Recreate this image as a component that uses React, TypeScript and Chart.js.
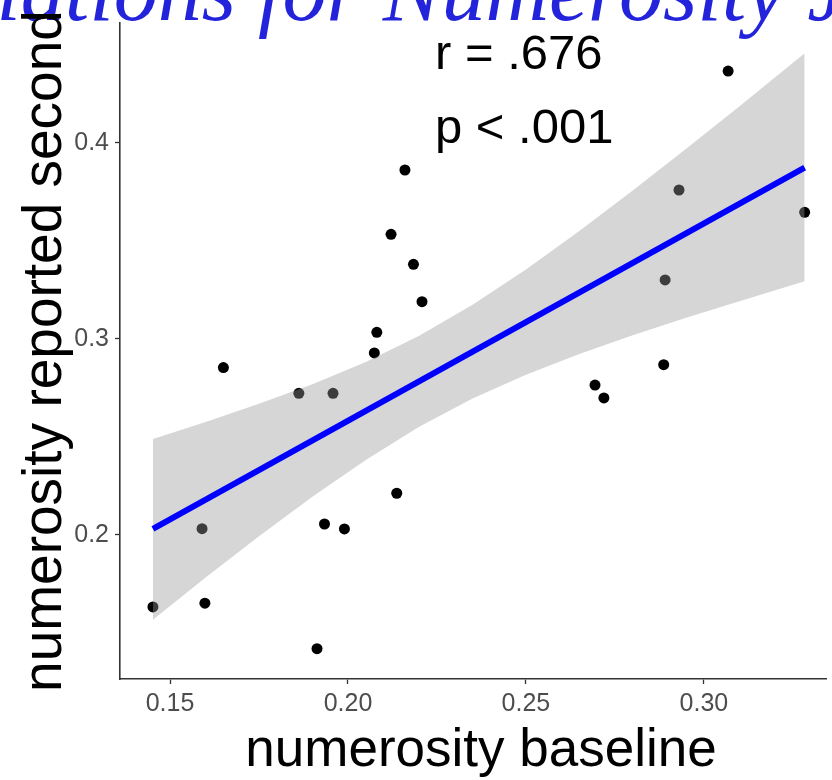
import React, { useEffect, useRef } from 'react';
import { Chart, registerables } from 'chart.js';

Chart.register(...registerables);

// ---- data ----
const baselineX = [0.1452, 0.159, 0.1598, 0.165, 0.1862, 0.1913, 0.1934, 0.1958, 0.199, 0.2074, 0.2081, 0.2121, 0.2137, 0.216, 0.2184, 0.2208, 0.2694, 0.2719, 0.2887, 0.2891, 0.293, 0.3068, 0.3283];
const reportedY = [0.1633, 0.2032, 0.1652, 0.2854, 0.2723, 0.142, 0.2056, 0.2723, 0.2031, 0.2929, 0.3034, 0.3534, 0.2213, 0.3862, 0.3381, 0.319, 0.2765, 0.2699, 0.2869, 0.3301, 0.376, 0.4367, 0.3646];

const fitX = [0.1452, 0.3283];
const fitY = [0.2031, 0.3874];

const bandX = [0.1452, 0.16, 0.175, 0.19, 0.205, 0.22, 0.235, 0.25, 0.265, 0.28, 0.295, 0.31, 0.3283];
const bandUpper = [0.249, 0.2577, 0.2669, 0.2769, 0.2883, 0.3016, 0.3174, 0.3354, 0.3551, 0.3757, 0.397, 0.4187, 0.4458];
const bandLower = [0.1568, 0.1783, 0.1993, 0.2195, 0.2383, 0.2552, 0.2696, 0.2818, 0.2923, 0.3019, 0.3108, 0.3193, 0.3294];

const xTicks = [0.15, 0.2, 0.25, 0.3];
const xTickLabels = ['0.15', '0.20', '0.25', '0.30'];
const yTicks = [0.2, 0.3, 0.4];
const yTickLabels = ['0.2', '0.3', '0.4'];

const titleText = 'Correlations for Numerosity Judgments';
const xTitle = 'numerosity baseline';
const yTitle = 'numerosity reported second';
const statLines = ['r = .676', 'p < .001'];

const SANS = '"Liberation Sans", Arial, sans-serif';
const SERIF = '"Liberation Serif", "Times New Roman", serif';

const textPlugin = {
  id: 'textOverlay',
  afterDraw(chart: any) {
    const ctx = chart.ctx as CanvasRenderingContext2D;
    const area = chart.chartArea;
    ctx.save();
    // cropped slide title
    ctx.font = 'italic 88px ' + SERIF;
    ctx.fillStyle = '#2323dc';
    ctx.textBaseline = 'alphabetic';
    ctx.textAlign = 'left';
    const prefix = titleText.slice(0, titleText.indexOf('for'));
    const start = 258 - ctx.measureText(prefix).width;
    ctx.fillText(titleText, start, 20);

    // axis titles
    ctx.fillStyle = '#000000';
    ctx.font = '53px ' + SANS;
    ctx.textAlign = 'center';
    ctx.fillText(xTitle, 481, 766);

    ctx.save();
    ctx.font = '55px ' + SANS;
    ctx.translate(61, (area.top + area.bottom) / 2);
    ctx.rotate(-Math.PI / 2);
    ctx.textAlign = 'center';
    ctx.fillText(yTitle, 0, 0);
    ctx.restore();

    // statistics
    ctx.font = '49px ' + SANS;
    ctx.textAlign = 'left';
    ctx.fillText(statLines[0], 435, 69);
    ctx.fillText(statLines[1], 435, 143);
    ctx.restore();
  },
};

export default function App() {
  const ref = useRef<HTMLCanvasElement | null>(null);

  useEffect(() => {
    if (!ref.current) return;
    const chart = new Chart(ref.current, {
      type: 'scatter',
      data: {
        datasets: [
          {
            type: 'scatter',
            label: 'points',
            data: baselineX.map((x, i) => ({ x, y: reportedY[i] })),
            backgroundColor: '#000000',
            borderWidth: 0,
            pointRadius: 5.5,
            order: 4,
          },
          {
            type: 'line',
            label: 'upper',
            data: bandX.map((x, i) => ({ x, y: bandUpper[i] })),
            borderWidth: 0,
            borderColor: 'rgba(0,0,0,0)',
            pointRadius: 0,
            fill: '+1',
            backgroundColor: 'rgba(153,153,153,0.4)',
            order: 2,
          },
          {
            type: 'line',
            label: 'lower',
            data: bandX.map((x, i) => ({ x, y: bandLower[i] })),
            borderWidth: 0,
            borderColor: 'rgba(0,0,0,0)',
            pointRadius: 0,
            fill: false,
            order: 3,
          },
          {
            type: 'line',
            label: 'fit',
            data: fitX.map((x, i) => ({ x, y: fitY[i] })),
            borderColor: '#0000ff',
            borderWidth: 6,
            pointRadius: 0,
            fill: false,
            order: 1,
          },
        ],
      } as any,
      options: {
        animation: false,
        responsive: false,
        layout: { padding: { top: 23, left: 0, right: 0, bottom: 0 } },
        plugins: {
          legend: { display: false },
          tooltip: { enabled: false },
          title: { display: false },
        },
        scales: {
          x: {
            type: 'linear',
            min: 0.13595,
            max: 0.33444,
            afterBuildTicks: (scale: any) => {
              scale.ticks = xTicks.map((v) => ({ value: v }));
            },
            afterFit: (scale: any) => {
              scale.height = 101;
            },
            ticks: {
              callback: (v: any) => {
                const i = xTicks.findIndex((t) => Math.abs(t - v) < 1e-9);
                return i >= 0 ? xTickLabels[i] : '';
              },
              color: '#4d4d4d',
              font: { family: SANS, size: 25 },
              padding: 5,
              maxRotation: 0,
              autoSkip: false,
            },
            grid: {
              display: true,
              drawOnChartArea: false,
              drawTicks: true,
              tickLength: 5,
              tickColor: '#333333',
              tickWidth: 1.3,
            },
            border: { display: true, color: '#333333', width: 1.6 },
          },
          y: {
            type: 'linear',
            min: 0.12653,
            max: 0.4612,
            afterBuildTicks: (scale: any) => {
              scale.ticks = yTicks.map((v) => ({ value: v }));
            },
            afterFit: (scale: any) => {
              scale.width = 120;
            },
            ticks: {
              callback: (v: any) => {
                const i = yTicks.findIndex((t) => Math.abs(t - v) < 1e-9);
                return i >= 0 ? yTickLabels[i] : '';
              },
              color: '#4d4d4d',
              font: { family: SANS, size: 25 },
              padding: 6,
              autoSkip: false,
            },
            grid: {
              display: true,
              drawOnChartArea: false,
              drawTicks: true,
              tickLength: 5,
              tickColor: '#333333',
              tickWidth: 1.3,
            },
            border: { display: true, color: '#333333', width: 1.6 },
          },
        },
      } as any,
      plugins: [textPlugin],
    });
    return () => chart.destroy();
  }, []);

  return (
    <div style={{ position: 'absolute', left: 0, top: 0, width: 832, height: 780, background: '#ffffff', overflow: 'hidden' }}>
      <canvas ref={ref} width={832} height={780} style={{ display: 'block', width: 832, height: 780 }} />
    </div>
  );
}
